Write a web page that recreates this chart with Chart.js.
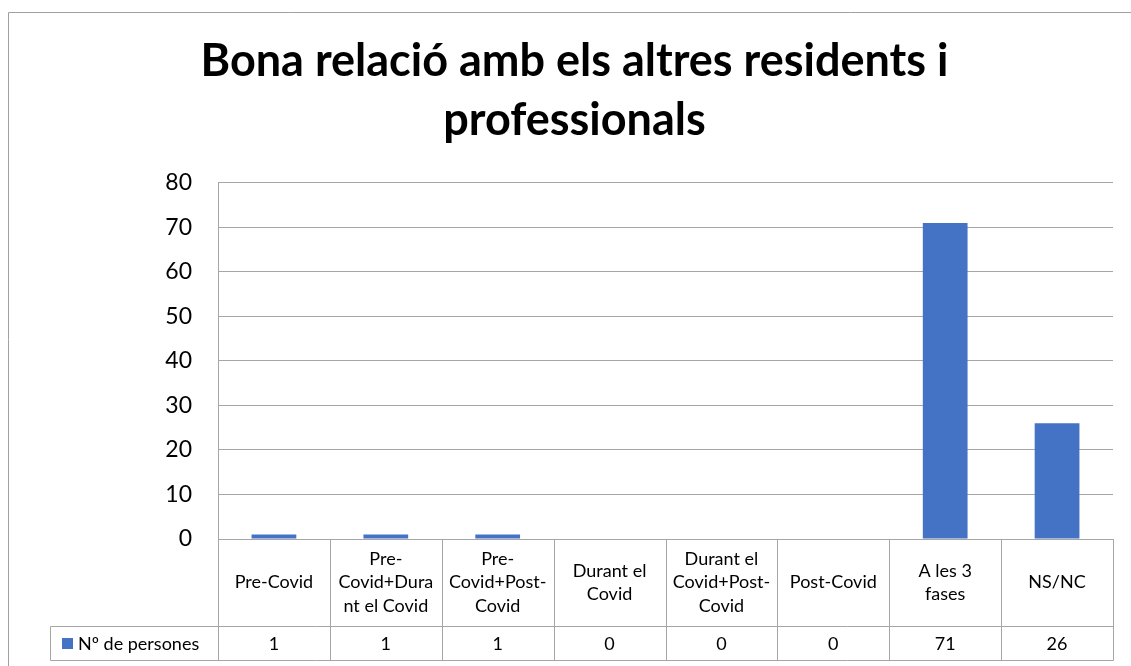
<!DOCTYPE html>
<html>
<head>
<meta charset="utf-8">
<script src="https://cdn.jsdelivr.net/npm/chart.js@4.4.1/dist/chart.umd.min.js"></script>
<style>
  html, body { margin: 0; padding: 0; background: #ffffff; }
  #wrap { width: 1131px; height: 666px; }
</style>
</head>
<body>
<div id="wrap"><canvas id="c" width="1131" height="666"></canvas></div>
<script>
const titleLines = ['Bona relació amb els altres residents i', 'professionals'];
const categories = [
  ['Pre-Covid'],
  ['Pre-', 'Covid+Dura', 'nt el Covid'],
  ['Pre-', 'Covid+Post-', 'Covid'],
  ['Durant el', 'Covid'],
  ['Durant el', 'Covid+Post-', 'Covid'],
  ['Post-Covid'],
  ['A les 3', 'fases'],
  ['NS/NC']
];
const seriesName = 'Nº de persones';
const values = [1, 1, 1, 0, 0, 0, 71, 26];
const yMin = 0, yMax = 80, yStep = 10;

const FONT = 'Lato, "Open Sans", sans-serif';
const GRID = '#a6a6a6';
const BAR = '#4472c4';

const tablePlugin = {
  id: 'dataTable',
  afterDraw(chart) {
    const ctx = chart.ctx;
    const area = chart.chartArea;
    const xs = chart.scales.x;
    const n = categories.length;
    const bounds = [];
    for (let i = 0; i <= n; i++) {
      if (i === 0) bounds.push(area.left);
      else if (i === n) bounds.push(area.right);
      else bounds.push((xs.getPixelForValue(i - 1) + xs.getPixelForValue(i)) / 2);
    }
    const headTop = area.bottom;
    const headBottom = headTop + 87;
    const rowBottom = headBottom + 34;
    const legendLeft = 50;
    ctx.save();
    ctx.strokeStyle = GRID;
    ctx.lineWidth = 1;
    const line = (x1, y1, x2, y2) => {
      ctx.beginPath();
      ctx.moveTo(Math.round(x1) + 0.5, Math.round(y1) + 0.5);
      ctx.lineTo(Math.round(x2) + 0.5, Math.round(y2) + 0.5);
      ctx.stroke();
    };
    line(area.left, headTop, area.right, headTop);
    line(legendLeft, headBottom, area.right, headBottom);
    line(legendLeft, rowBottom, area.right, rowBottom);
    line(legendLeft, headBottom, legendLeft, rowBottom);
    bounds.forEach(b => line(b, headTop, b, rowBottom));

    ctx.fillStyle = '#000';
    ctx.font = '18px ' + FONT;
    ctx.textAlign = 'center';
    ctx.textBaseline = 'middle';
    const lh = 23.5;
    const midHead = (headTop + headBottom) / 2;
    categories.forEach((lines, i) => {
      const cx = (bounds[i] + bounds[i + 1]) / 2;
      const y0 = midHead - (lines.length - 1) * lh / 2;
      lines.forEach((t, k) => ctx.fillText(t, cx, y0 + k * lh));
      ctx.fillText(String(values[i]), cx, (headBottom + rowBottom) / 2 + 1);
    });
    // legend cell
    const ly = (headBottom + rowBottom) / 2;
    ctx.fillStyle = BAR;
    ctx.fillRect(62, Math.round(ly) - 5, 11, 11);
    ctx.fillStyle = '#000';
    ctx.textAlign = 'left';
    ctx.fillText(seriesName, 78, ly + 1);

    // outer chart border (top & left visible)
    ctx.strokeStyle = '#a0a0a0';
    line(8, 12, 1131, 12);
    line(8, 12, 8, 666);
    ctx.restore();
  }
};

new Chart(document.getElementById('c'), {
  type: 'bar',
  data: {
    labels: categories,
    datasets: [{
      label: seriesName,
      data: values,
      backgroundColor: BAR,
      borderWidth: 0,
      barPercentage: 0.4,
      categoryPercentage: 1.0
    }]
  },
  options: {
    responsive: false,
    animation: false,
    events: [],
    layout: { padding: { left: 36, right: 18, top: 0, bottom: 0 } },
    plugins: {
      legend: { display: false },
      tooltip: { enabled: false },
      title: {
        display: true,
        text: titleLines,
        color: '#000',
        font: { family: FONT, size: 45, weight: 'bold', lineHeight: 1.31 },
        padding: { top: 32, bottom: 33 }
      }
    },
    scales: {
      x: {
        grid: { display: false },
        border: { display: true, color: GRID },
        ticks: { display: false },
        afterFit(scale) { scale.height = 127; }
      },
      y: {
        min: yMin,
        max: yMax,
        ticks: {
          stepSize: yStep,
          color: '#000',
          padding: 26,
          font: { family: FONT, size: 23 }
        },
        grid: { color: GRID, drawTicks: false, lineWidth: 1 },
        border: { display: true, color: GRID },
        afterFit(scale) { scale.width = 182; }
      }
    }
  },
  plugins: [tablePlugin]
});
</script>
</body>
</html>
